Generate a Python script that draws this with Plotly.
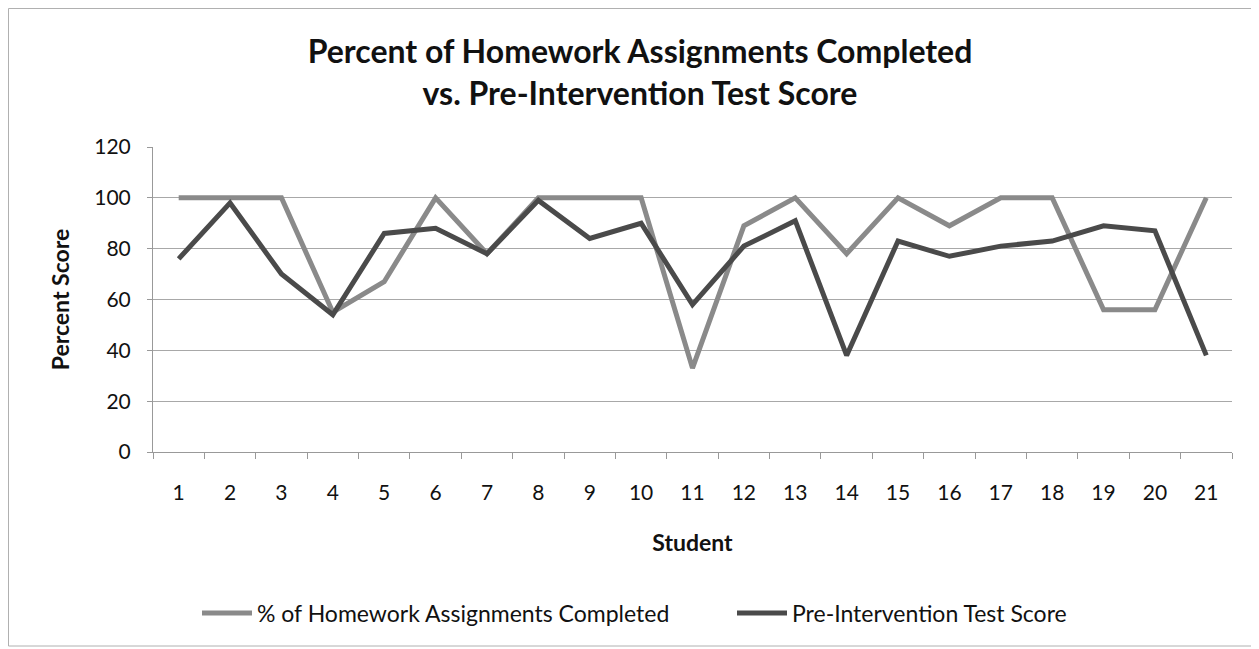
import plotly.graph_objects as go

students = [str(i) for i in range(1, 22)]
homework = [100, 100, 100, 55, 67, 100, 78, 100, 100, 100, 33, 89, 100, 78, 100, 89, 100, 100, 56, 56, 100]
pretest = [76, 98, 70, 54, 86, 88, 78, 99, 84, 90, 58, 81, 91, 38, 83, 77, 81, 83, 89, 87, 38]
y_ticks = [0, 20, 40, 60, 80, 100, 120]

FONT = "Lato"
OFF = 8  # page body margin in the browser
W, H = 1259 - OFF, 649 - OFF
L, R, T, B = 153 - OFF, 27, 147 - OFF, 197
pw, ph = W - L - R, H - T - B

def px(x):
    return (x - OFF - L) / pw

def py(y):
    return (H - B - (y - OFF)) / ph

fig = go.Figure()
fig.add_trace(go.Scatter(x=students, y=homework, mode="lines",
                         name="% of Homework Assignments Completed",
                         line=dict(color="#8a8a8a", width=5), legend="legend"))
fig.add_trace(go.Scatter(x=students, y=pretest, mode="lines",
                         name="Pre-Intervention Test Score",
                         line=dict(color="#4a4a4a", width=5), legend="legend2"))

leg_common = dict(orientation="h", xanchor="left", yanchor="middle",
                  font=dict(family=FONT, size=23), itemwidth=50, bgcolor="rgba(0,0,0,0)")

fig.update_layout(
    width=W, height=H,
    margin=dict(l=L, r=R, t=T, b=B),
    paper_bgcolor="white", plot_bgcolor="white",
    font=dict(family=FONT, color="#111111", size=21),
    title=dict(text="<b>Percent of Homework Assignments Completed<br>vs. Pre-Intervention Test Score</b>",
               x=px(640), xanchor="center", xref="paper", y=1 - (72 - OFF - 9) / H, yanchor="middle",
               font=dict(family=FONT, size=32, color="#111111")),
    showlegend=True,
    legend=dict(x=px(197), y=py(613), **leg_common),
    legend2=dict(x=px(732), y=py(613), **leg_common),
    xaxis=dict(type="category", range=[-0.5, 20.5], tickson="boundaries", ticks="outside", ticklen=6,
               tickcolor="#999999", showline=True, linecolor="#999999", linewidth=1,
               showgrid=False, tickfont=dict(size=21), ticklabelstandoff=22,
               title=dict(text="<b>Student</b>", font=dict(size=23), standoff=31)),
    yaxis=dict(range=[0, 120], tickvals=y_ticks, ticks="outside", ticklen=5,
               tickcolor="#999999", showline=True, linecolor="#999999", linewidth=1,
               showgrid=True, gridcolor="#a8a8a8", gridwidth=1, zeroline=False,
               tickfont=dict(size=21), ticklabelstandoff=12,
               title=dict(text="<b>Percent Score</b>", font=dict(size=23), standoff=18)),
    shapes=[dict(type="rect", xref="paper", yref="paper",
                 x0=px(8.5), x1=px(1254), y0=py(646), y1=py(8.5),
                 line=dict(color="#b0b0b0", width=1), layer="below")],
)

fig.write_html("out.html")
